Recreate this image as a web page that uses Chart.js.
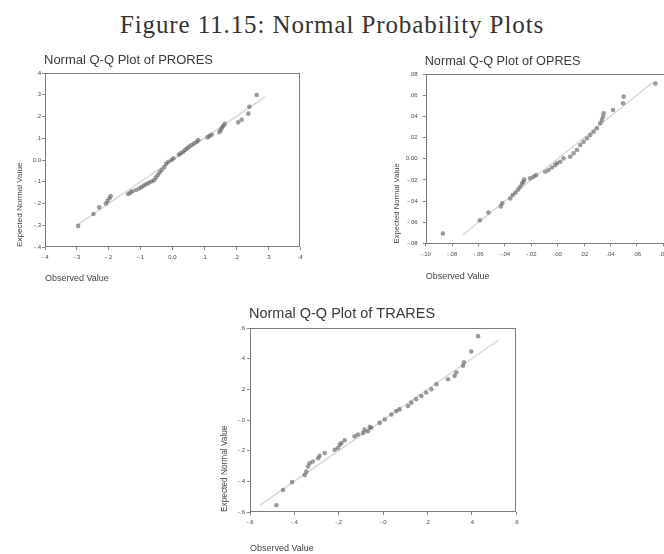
<!DOCTYPE html>
<html>
<head>
<meta charset="utf-8">
<script src="https://cdn.jsdelivr.net/npm/chart.js@4/dist/chart.umd.min.js"></script>
<style>
  html, body { margin: 0; padding: 0; width: 664px; height: 554px; overflow: hidden; background: #fff; }
  #fig { position: absolute; left: 0; top: 12px; width: 664px; text-align: center;
         font-family: "Liberation Serif", "DejaVu Serif", serif; font-size: 25px; line-height: 25px;
         letter-spacing: 0.9px; color: #333; white-space: nowrap; }
  .panel { position: absolute; }
</style>
</head>
<body>
<div id="fig">Figure 11.15: Normal Probability Plots</div>
<div class="panel" style="left:0px;top:50px;width:312px;height:240px"><canvas id="prores"></canvas></div>
<div class="panel" style="left:380px;top:50px;width:320px;height:240px"><canvas id="opres"></canvas></div>
<div class="panel" style="left:200px;top:300px;width:330px;height:258px"><canvas id="trares"></canvas></div>
<script>
// PRORES residuals: observed value vs expected normal value
const proresObserved = [-0.296, -0.248, -0.230, -0.209, -0.204, -0.198, -0.194, -0.139, -0.132, -0.126,
  -0.114, -0.104, -0.097, -0.090, -0.082, -0.074, -0.066, -0.058, -0.052, -0.046,
  -0.040, -0.034, -0.026, -0.020, -0.013, -0.003, 0.003, 0.020, 0.026, 0.034,
  0.040, 0.046, 0.052, 0.060, 0.068, 0.076, 0.081, 0.110, 0.116, 0.123,
  0.147, 0.151, 0.155, 0.159, 0.164, 0.206, 0.217, 0.238, 0.241, 0.264];
const proresExpected = [-0.303, -0.248, -0.218, -0.200, -0.189, -0.176, -0.166, -0.156, -0.150, -0.144,
  -0.138, -0.131, -0.124, -0.117, -0.111, -0.105, -0.099, -0.093, -0.081, -0.069,
  -0.057, -0.046, -0.033, -0.018, -0.008, 0.000, 0.008, 0.024, 0.031, 0.038,
  0.047, 0.054, 0.062, 0.069, 0.077, 0.084, 0.092, 0.104, 0.110, 0.116,
  0.128, 0.138, 0.147, 0.156, 0.166, 0.173, 0.185, 0.213, 0.245, 0.299];
const proresLine = [-0.30, 0.29];
const proresTicks = [-0.4, -0.3, -0.2, -0.1, 0, 0.1, 0.2, 0.3, 0.4];
const proresTickLabels = ['-.4', '-.3', '-.2', '-.1', '0.0', '.1', '.2', '.3', '.4'];

// OPRES residuals
const opresObserved = [-0.087, -0.059, -0.0525, -0.043, -0.042, -0.036, -0.034, -0.032, -0.030, -0.0285,
  -0.027, -0.026, -0.0254, -0.0209, -0.0184, -0.0165, -0.0094, -0.007, -0.0044, -0.0019,
  -0.0006, 0.0019, 0.0044, 0.0095, 0.012, 0.0146, 0.0171, 0.0196, 0.0222, 0.0247,
  0.0272, 0.0297, 0.0322, 0.0335, 0.0343, 0.0348, 0.0419, 0.0495, 0.050, 0.074];
const opresExpected = [-0.0705, -0.058, -0.0507, -0.045, -0.042, -0.0375, -0.0343, -0.032, -0.029, -0.0265,
  -0.0235, -0.0217, -0.0195, -0.0185, -0.017, -0.0155, -0.0123, -0.0107, -0.0082, -0.006,
  -0.0043, -0.0028, 0.0004, 0.0019, 0.0051, 0.0082, 0.013, 0.0161, 0.0193, 0.0224,
  0.0255, 0.0287, 0.0335, 0.0366, 0.0397, 0.0429, 0.046, 0.0523, 0.0586, 0.071];
const opresLine = [-0.072, 0.072];
const opresXTicks = [-0.10, -0.08, -0.06, -0.04, -0.02, 0, 0.02, 0.04, 0.06, 0.08, 0.10];
const opresXTickLabels = ['-.10', '-.08', '-.06', '-.04', '-.02', '.00', '.02', '.04', '.06', '.08', '.10'];
const opresYTicks = [-0.08, -0.06, -0.04, -0.02, 0, 0.02, 0.04, 0.06, 0.08];
const opresYTickLabels = ['-.08', '-.06', '-.04', '-.02', '0.00', '.02', '.04', '.06', '.08'];

// TRARES residuals
const traresObserved = [-0.481, -0.451, -0.410, -0.353, -0.346, -0.338, -0.331, -0.316, -0.293, -0.286,
  -0.263, -0.218, -0.203, -0.195, -0.188, -0.173, -0.128, -0.113, -0.090, -0.083,
  -0.068, -0.060, -0.053, -0.015, 0.008, 0.038, 0.060, 0.075, 0.113, 0.128,
  0.150, 0.173, 0.195, 0.218, 0.241, 0.293, 0.323, 0.331, 0.361, 0.365,
  0.398, 0.429];
const traresExpected = [-0.556, -0.457, -0.405, -0.359, -0.337, -0.304, -0.282, -0.271, -0.249, -0.234,
  -0.216, -0.194, -0.183, -0.161, -0.150, -0.132, -0.106, -0.095, -0.084, -0.063,
  -0.073, -0.045, -0.051, -0.019, 0.003, 0.036, 0.058, 0.069, 0.091, 0.113,
  0.135, 0.157, 0.179, 0.200, 0.233, 0.266, 0.288, 0.310, 0.354, 0.376,
  0.446, 0.547];
const traresLine = [-0.555, 0.52];
const traresTicks = [-0.6, -0.4, -0.2, 0, 0.2, 0.4, 0.6];
const traresTickLabels = ['-.6', '-.4', '-.2', '-.0', '.2', '.4', '.6'];

const SANS = '"Liberation Sans", Arial, sans-serif';

// Frame around the plotting area plus a left-aligned panel heading
const panelDecor = {
  id: 'panelDecor',
  afterDraw(chart, args, opts) {
    const { ctx, chartArea: a } = chart;
    ctx.save();
    ctx.strokeStyle = '#7c7c7c';
    ctx.lineWidth = 1;
    ctx.strokeRect(Math.round(a.left) + 0.5, Math.round(a.top) + 0.5,
                   Math.round(a.width) - 1, Math.round(a.height) - 1);
    ctx.fillStyle = '#3a3a3a';
    ctx.font = opts.size + 'px ' + SANS;
    ctx.textAlign = 'left';
    ctx.textBaseline = 'middle';
    ctx.fillText(opts.text, a.left - 1, opts.y);
    ctx.restore();
  }
};

function axis(ticks, labels, titleText, g, horizontal) {
  return {
    type: 'linear',
    min: ticks[0],
    max: ticks[ticks.length - 1],
    afterBuildTicks(s) { s.ticks = ticks.map(v => ({ value: v })); },
    afterFit(s) {
      if (horizontal) { s.height = g.H - g.B; s.paddingLeft = 0; s.paddingRight = 0; }
      else { s.width = g.L; s.paddingTop = 0; s.paddingBottom = 0; }
    },
    grid: { drawOnChartArea: false, drawTicks: true, tickLength: 3, tickColor: '#8a8a8a' },
    border: { display: false },
    ticks: {
      autoSkip: false, maxRotation: 0, minRotation: 0,
      padding: horizontal ? g.xTickPad : g.yTickPad,
      color: '#4a4a4a',
      font: { family: SANS, size: 6 },
      callback: (v, i) => labels[i]
    },
    title: {
      display: true, text: titleText, align: 'start', color: '#454545',
      font: { family: SANS, size: horizontal ? 9 : g.yTitleSize },
      padding: horizontal ? { top: 0, bottom: g.xTitlePad } : { top: g.yTitlePad, bottom: 0 }
    }
  };
}

function qqPlot(id, s, g) {
  const points = s.observed.map((x, i) => ({ x: x, y: s.expected[i] }));
  const ref = s.line.map(v => ({ x: v, y: v }));
  return new Chart(document.getElementById(id), {
    type: 'scatter',
    data: {
      datasets: [
        { data: points, pointRadius: 2.3, pointBackgroundColor: 'rgba(95,95,95,0.62)',
          pointBorderWidth: 0, order: 1 },
        { data: ref, showLine: true, pointRadius: 0, borderColor: 'rgba(160,160,160,0.42)',
          borderWidth: 1.4, order: 2 }
      ]
    },
    options: {
      responsive: true, maintainAspectRatio: false, animation: false, events: [],
      layout: { padding: { left: 0, top: g.T, right: g.W - g.R, bottom: 0 } },
      plugins: {
        legend: { display: false }, tooltip: { enabled: false },
        panelDecor: { text: s.title, y: g.titleY, size: g.titleSize }
      },
      scales: {
        x: axis(s.xTicks, s.xLabels, 'Observed Value', g, true),
        y: axis(s.yTicks, s.yLabels, 'Expected Normal Value', g, false)
      }
    },
    plugins: [panelDecor]
  });
}

qqPlot('prores', {
  title: 'Normal Q-Q Plot of PRORES', observed: proresObserved, expected: proresExpected, line: proresLine,
  xTicks: proresTicks, xLabels: proresTickLabels, yTicks: proresTicks, yLabels: proresTickLabels
}, { W: 312, H: 240, L: 45, T: 23, R: 300, B: 197, titleY: 10.7, titleSize: 13,
     yTitleSize: 8.1, yTitlePad: 15, xTitlePad: 5.6, yTickPad: 1, xTickPad: 4 });

qqPlot('opres', {
  title: 'Normal Q-Q Plot of OPRES', observed: opresObserved, expected: opresExpected, line: opresLine,
  xTicks: opresXTicks, xLabels: opresXTickLabels, yTicks: opresYTicks, yLabels: opresYTickLabels
}, { W: 320, H: 240, L: 45.7, T: 24, R: 309.7, B: 193.5, titleY: 11.7, titleSize: 12.7,
     yTitleSize: 7.7, yTitlePad: 11.8, xTitlePad: 7.9, yTickPad: 5, xTickPad: 4 });

qqPlot('trares', {
  title: 'Normal Q-Q Plot of TRARES', observed: traresObserved, expected: traresExpected, line: traresLine,
  xTicks: traresTicks, xLabels: traresTickLabels, yTicks: traresTicks, yLabels: traresTickLabels
}, { W: 330, H: 258, L: 50, T: 28, R: 316, B: 212, titleY: 14, titleSize: 14.5,
     yTitleSize: 8.3, yTitlePad: 20, xTitlePad: 4.3, yTickPad: 2, xTickPad: 4 });
</script>
</body>
</html>
